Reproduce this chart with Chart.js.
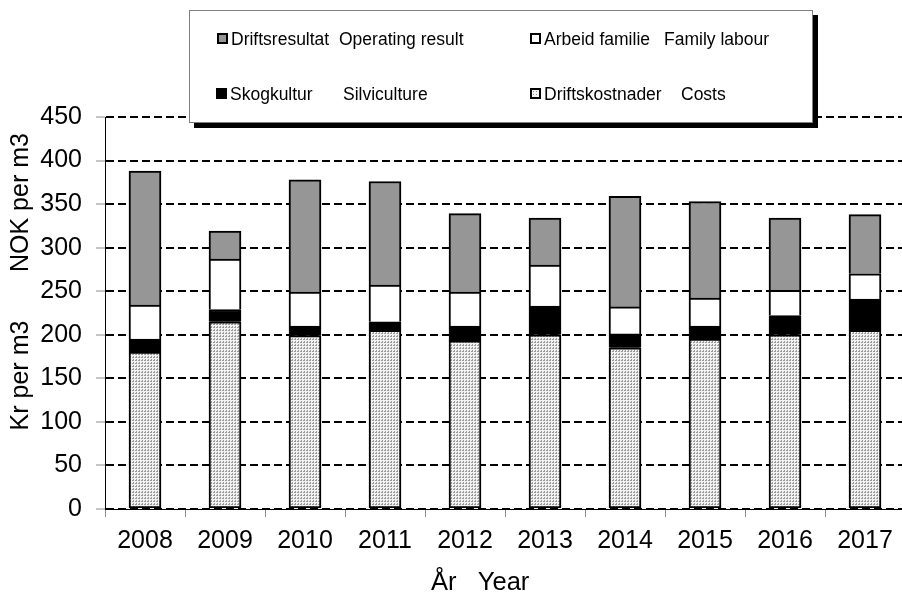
<!DOCTYPE html>
<html>
<head>
<meta charset="utf-8">
<title>Driftsresultat per m3</title>
<script src="https://cdn.jsdelivr.net/npm/chart.js@4.4.1/dist/chart.umd.min.js"></script>
<style>
  html, body { margin: 0; padding: 0; background: #fff; overflow: hidden; }
  #wrap { position: relative; width: 902px; height: 599px; overflow: hidden; }
  #chart { position: absolute; left: 0; top: 0; }
  #legend {
    position: absolute; left: 189px; top: 10px; width: 622px; height: 111px;
    background: #fff; border: 1px solid #7f7f7f; box-shadow: 5px 5px 0 #000;
    font-family: Arial, "Liberation Sans", sans-serif; font-size: 17.5px; color: #000;
  }
  .txt { position: absolute; white-space: pre; line-height: 20px; }
  .swatch { position: absolute; width: 7px; height: 7px; border: 2px solid #000; }
</style>
</head>
<body>
<div id="wrap">
  <canvas id="chart" width="906" height="599"></canvas>
  <div id="legend"></div>
</div>
<script>
  const YEARS = ["2008", "2009", "2010", "2011", "2012", "2013", "2014", "2015", "2016", "2017"];

  // NOK per m3
  const COSTS = [180, 215, 199, 205, 193, 200, 185, 195, 200, 205];
  const SILVICULTURE = [15, 14, 11, 10, 17, 33, 16, 15, 22, 36];
  const FAMILY_LABOUR = [39, 58, 39, 42, 39, 47, 31, 32, 29, 29];
  const OPERATING_RESULT = [154, 32, 129, 119, 90, 54, 127, 111, 83, 68];

  const Y_MIN = 0;
  const Y_MAX = 450;
  const Y_STEP = 50;

  const FONT = 'Arial, "Liberation Sans", sans-serif';

  // stippled fill used for the cost segment
  function dotPattern() {
    const tile = document.createElement("canvas");
    tile.width = 3;
    tile.height = 3;
    const c = tile.getContext("2d");
    c.fillStyle = "#f2f2f2";
    c.fillRect(0, 0, 3, 3);
    c.fillStyle = "#9a9a9a";
    c.fillRect(0, 0, 2, 1);
    c.fillRect(1, 2, 1, 1);
    return document.getElementById("chart").getContext("2d").createPattern(tile, "repeat");
  }

  const upperBorder = { top: 2, left: 2, right: 2, bottom: 0 };

  const datasets = [
    { label: "Driftskostnader   Costs", data: COSTS, backgroundColor: dotPattern(),
      borderWidth: 2 },
    { label: "Skogkultur    Silviculture", data: SILVICULTURE, backgroundColor: "#000",
      borderWidth: upperBorder },
    { label: "Arbeid familie  Family labour", data: FAMILY_LABOUR, backgroundColor: "#fff",
      borderWidth: upperBorder },
    { label: "Driftsresultat  Operating result", data: OPERATING_RESULT, backgroundColor: "#969696",
      borderWidth: upperBorder },
  ].map((d) => ({ ...d, borderColor: "#000", borderSkipped: false, barThickness: 32 }));

  Chart.defaults.font.family = FONT;
  Chart.defaults.color = "#000";

  new Chart(document.getElementById("chart"), {
    type: "bar",
    data: { labels: YEARS, datasets },
    options: {
      responsive: false,
      animation: false,
      layout: { padding: { top: 117, right: 1, bottom: 0, left: 0 } },
      plugins: { legend: { display: false }, tooltip: { enabled: false } },
      scales: {
        x: {
          stacked: true,
          offset: true,
          grid: { offset: true, drawOnChartArea: false, tickLength: 8, tickColor: "#8c8c8c", tickWidth: 1 },
          border: { color: "#000", width: 1 },
          ticks: { font: { size: 25 }, padding: 9, maxRotation: 0 },
          title: { display: true, text: "År   Year       ", font: { size: 25.5 }, padding: { top: 0, bottom: 1 } },
          afterFit: (scale) => { scale.height = 90; },
        },
        y: {
          stacked: true,
          min: Y_MIN,
          max: Y_MAX,
          ticks: { stepSize: Y_STEP, font: { size: 25 }, padding: 14 },
          grid: { color: "#000", lineWidth: 2, tickLength: 9, tickColor: "#8c8c8c", tickWidth: 1, tickBorderDash: [] },
          border: { color: "#000", width: 1, dash: [8, 4] },
          title: { display: true, text: "         Kr per m3       NOK per m3", font: { size: 25 }, padding: { top: 6, bottom: 0 } },
          afterFit: (scale) => { scale.width = 105; },
        },
      },
    },
  });

  // legend box drawn over the plot, two columns of two entries
  // x / enX / y are offsets inside the box
  const LEGEND_ITEMS = [
    { no: "Driftsresultat", en: "Operating result", fill: "#969696", x: 27, enX: 149, y: 22, textY: 18 },
    { no: "Arbeid familie", en: "Family labour", fill: "#fff", x: 340, enX: 474, y: 22, textY: 18 },
    { no: "Skogkultur", en: "Silviculture", fill: "#000", x: 26, enX: 153, y: 77, textY: 73 },
    { no: "Driftskostnader", en: "Costs", fill: "dots", x: 340, enX: 491, y: 77, textY: 73 },
  ];

  const legend = document.getElementById("legend");
  for (const item of LEGEND_ITEMS) {
    const sw = document.createElement("div");
    sw.className = "swatch";
    sw.style.left = `${item.x}px`;
    sw.style.top = `${item.y}px`;
    if (item.fill === "dots") {
      sw.style.background = "#f2f2f2";
      sw.style.backgroundImage = "radial-gradient(#8a8a8a 35%, transparent 40%)";
      sw.style.backgroundSize = "3px 3px";
    } else {
      sw.style.background = item.fill;
    }
    legend.appendChild(sw);

    const no = document.createElement("span");
    no.className = "txt";
    no.textContent = item.no;
    no.style.left = `${item.x + 14}px`;
    no.style.top = `${item.textY}px`;
    legend.appendChild(no);

    const en = document.createElement("span");
    en.className = "txt";
    en.textContent = item.en;
    en.style.left = `${item.enX}px`;
    en.style.top = `${item.textY}px`;
    legend.appendChild(en);
  }
</script>
</body>
</html>
